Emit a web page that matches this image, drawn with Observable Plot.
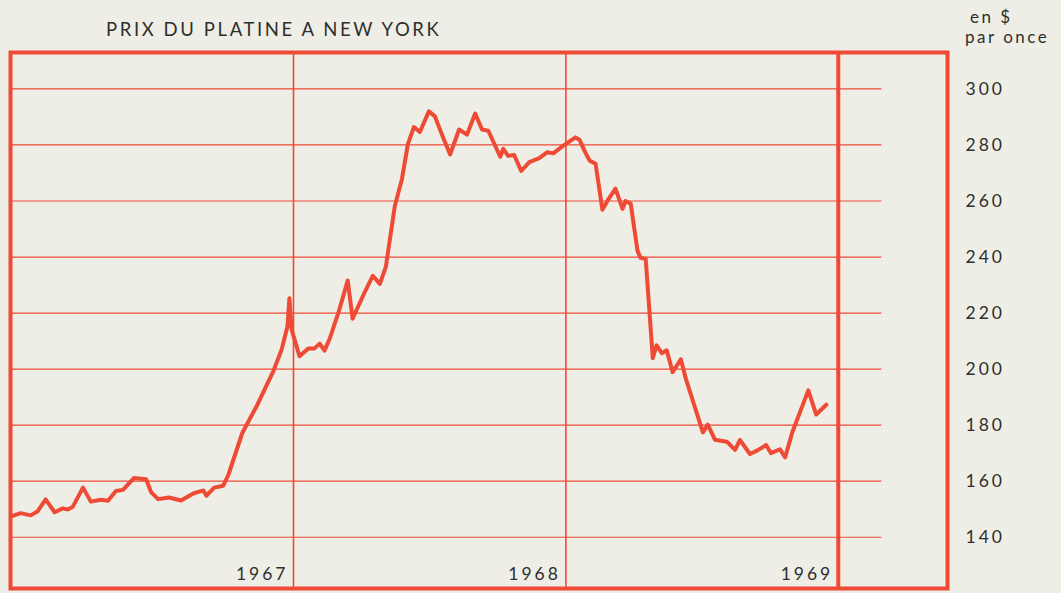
<!DOCTYPE html>
<html>
<head>
<meta charset="utf-8">
<script src="https://cdn.jsdelivr.net/npm/d3@7"></script>
<script src="https://cdn.jsdelivr.net/npm/@observablehq/plot@0.6"></script>
<style>
  body { margin: 0; background: #efeee6; }
  #wrap { position: relative; width: 1061px; height: 593px; overflow: hidden; background: #efeee6; font-family: Lato, "Noto Sans", sans-serif; color: #2e2e2e; }
  #title { position: absolute; left: 106px; top: 19.6px; font-size: 18.5px; line-height: 18.5px; letter-spacing: 2.6px; white-space: nowrap; }
  #unit { position: absolute; left: 965px; top: 6.7px; font-size: 17px; line-height: 20.5px; letter-spacing: 2.5px; white-space: nowrap; }
  #unit span { margin-left: 5px; }
  #chart { position: absolute; left: 0; top: 40px; }
</style>
</head>
<body>
<div id="wrap">
  <div id="title">PRIX DU PLATINE A NEW YORK</div>
  <div id="unit"><span>en $</span><br>par once</div>
  <div id="chart"></div>
</div>
<script>
// Time in decimal years, price in $ per ounce
const years = [
  1966.969, 1966.998, 1967.035, 1967.061, 1967.090, 1967.123, 1967.153, 1967.171, 1967.190, 1967.227,
  1967.256, 1967.293, 1967.319, 1967.348, 1967.374, 1967.414, 1967.459, 1967.477, 1967.503, 1967.543,
  1967.587, 1967.632, 1967.669, 1967.680, 1967.709, 1967.742, 1967.761, 1967.812, 1967.867, 1967.926,
  1967.956, 1967.978, 1967.985, 1967.993, 1968.022, 1968.055, 1968.077, 1968.096, 1968.114, 1968.133,
  1968.166, 1968.199, 1968.217, 1968.262, 1968.291, 1968.317, 1968.339, 1968.372, 1968.398, 1968.420,
  1968.442, 1968.464, 1968.497, 1968.519, 1968.552, 1968.575, 1968.608, 1968.637, 1968.667, 1968.692,
  1968.715, 1968.759, 1968.770, 1968.788, 1968.810, 1968.836, 1968.866, 1968.902, 1968.932, 1968.954,
  1968.987, 1969.035, 1969.050, 1969.068, 1969.087, 1969.109, 1969.134, 1969.157, 1969.182, 1969.208,
  1969.219, 1969.238, 1969.263, 1969.274, 1969.293, 1969.319, 1969.333, 1969.352, 1969.370, 1969.392,
  1969.422, 1969.440, 1969.503, 1969.521, 1969.547, 1969.591, 1969.621, 1969.639, 1969.676, 1969.705,
  1969.735, 1969.753, 1969.786, 1969.805, 1969.831, 1969.890, 1969.919, 1969.956
];
const prices = [
  147.6, 148.6, 147.8, 149.3, 153.5, 148.9, 150.3, 149.9, 150.9, 157.7,
  152.7, 153.4, 153.0, 156.5, 156.9, 161.1, 160.7, 156.1, 153.6, 154.2,
  153.1, 155.6, 156.7, 154.8, 157.7, 158.4, 162.3, 177.2, 187.2, 199.3,
  206.8, 215.3, 225.3, 214.2, 204.6, 207.4, 207.4, 209.1, 206.6, 210.9,
  220.5, 231.6, 218.0, 227.6, 233.3, 230.4, 236.5, 258.2, 267.8, 280.3,
  286.4, 284.6, 292.0, 290.2, 282.0, 276.6, 285.5, 283.7, 291.2, 285.5,
  285.1, 275.8, 278.6, 276.1, 276.4, 270.7, 273.9, 275.3, 277.4, 277.0,
  279.5, 282.7, 281.9, 278.0, 274.4, 273.3, 256.9, 260.8, 264.4, 257.2,
  260.0, 259.0, 242.2, 239.7, 239.3, 203.9, 208.5, 205.7, 206.7, 198.9,
  203.5, 196.7, 177.4, 180.2, 174.8, 174.1, 171.2, 174.7, 169.7, 171.1,
  172.9, 170.0, 171.4, 168.5, 177.4, 192.4, 183.8, 187.3
];
const gridValues = [140, 160, 180, 200, 220, 240, 260, 280, 300];
const yearDividers = [1968, 1969, 1970];
const yearLabels = ["1967", "1968", "1969"];
const xDomain = [1966.961, 1970.401];
const yDomain = [121.7, 313.0];
const gridEnd = 1970.16;

const red = "#ee4a35";
const ink = "#2e2e2e";
const data = years.map((t, i) => ({t, p: prices[i]}));

const chart = Plot.plot({
  width: 1061,
  height: 553,
  marginLeft: 10,
  marginRight: 114,
  marginTop: 12,
  marginBottom: 5,
  x: {domain: xDomain, axis: null},
  y: {domain: yDomain, axis: null},
  style: {background: "transparent", fontFamily: "Lato, 'Noto Sans', sans-serif", overflow: "visible"},
  marks: [
    Plot.ruleY(gridValues, {x1: xDomain[0], x2: gridEnd, stroke: red, strokeWidth: 1.2}),
    Plot.ruleX(yearDividers.slice(0, 2), {stroke: red, strokeWidth: 1.6}),
    Plot.ruleX(yearDividers.slice(2), {stroke: red, strokeWidth: 4}),
    Plot.line(data, {x: "t", y: "p", stroke: red, strokeWidth: 4, strokeLinejoin: "round", strokeLinecap: "round"}),
    Plot.frame({stroke: red, strokeWidth: 4}),
    Plot.axisY(gridValues, {anchor: "right", label: null, tickSize: 0, tickPadding: 18, fill: ink, fontSize: 17.5}),
    Plot.text(yearLabels, {x: yearDividers, text: d => d, frameAnchor: "bottom", lineAnchor: "bottom", textAnchor: "end", dx: -5, dy: -9, fill: ink, fontSize: 17.5})
  ]
});
d3.select(chart).selectAll("text").attr("letter-spacing", "3px");
document.getElementById("chart").appendChild(chart);
</script>
</body>
</html>
